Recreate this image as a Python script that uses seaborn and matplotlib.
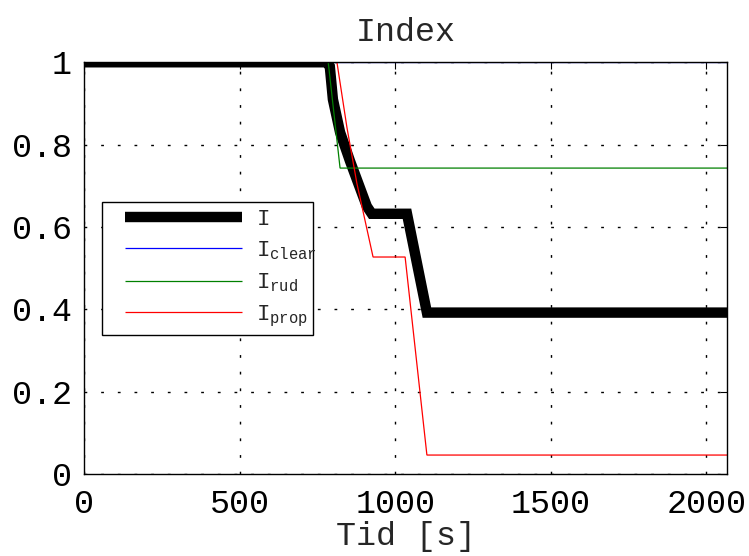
import matplotlib
matplotlib.use("Agg")
import matplotlib.pyplot as plt
import seaborn as sns
import pandas as pd
from matplotlib.lines import Line2D
from matplotlib.legend_handler import HandlerLine2D

# values (time [s], index)
t_total = [0, 780, 790, 800, 823, 855, 909, 925, 1038, 1102, 2067]
i_total = [1.0, 1.0, 0.99, 0.91, 0.83, 0.76, 0.65, 0.632, 0.632, 0.392, 0.392]

t_clear = [0, 2067]
i_clear = [1.0, 1.0]

t_rud = [0, 785, 823, 2067]
i_rud = [1.0, 1.0, 0.743, 0.743]

t_prop = [0, 813, 845, 877, 929, 1032, 1102, 2067]
i_prop = [1.0, 1.0, 0.842, 0.706, 0.527, 0.527, 0.046, 0.046]

labels = [r"$\mathrm{I}$", r"$\mathrm{I}_{\mathrm{clear}}$",
          r"$\mathrm{I}_{\mathrm{rud}}$", r"$\mathrm{I}_{\mathrm{prop}}$"]

sns.set_style("white")
plt.rcParams["font.family"] = ["Liberation Mono", "DejaVu Sans Mono"]
plt.rcParams["mathtext.fontset"] = "custom"
plt.rcParams["mathtext.rm"] = "Liberation Mono"

fig = plt.figure(figsize=(7.49, 5.56), dpi=100)
ax = fig.add_axes([0.112, 0.1475, 0.859, 0.7405])

# (x, y, colour, width, z-order) -- red drawn last, blue first
series = [(t_total, i_total, "black", 7.5, 3),
          (t_clear, i_clear, "blue", 0.9, 2),
          (t_rud, i_rud, "green", 0.9, 4),
          (t_prop, i_prop, "red", 0.9, 5)]
handles = []
for (t, v, c, lw, z), lab in zip(series, labels):
    df = pd.DataFrame({"t": t, "v": v})
    sns.lineplot(data=df, x="t", y="v", ax=ax, color=c, lw=lw,
                 estimator=None, sort=False, zorder=z)
    line = ax.get_lines()[-1]
    line.set_solid_capstyle("butt")
    line.set_solid_joinstyle("miter")
    line.set_clip_on(True)
    line.set_clip_box(ax.bbox)
    handles.append(line)

ax.set_xlim(0, 2067)
ax.set_ylim(0, 1)
ax.set_xticks([0, 500, 1000, 1500, 2000])
ax.set_yticks([0, 0.2, 0.4, 0.6, 0.8, 1])
ax.set_yticklabels(["0", "0.2", "0.4", "0.6", "0.8", "1"])
ax.grid(True, color="black", linestyle=(0, (2.0, 10.0)), linewidth=1.0)
ax.set_axisbelow(True)
ax.tick_params(direction="in", top=True, right=True, labelsize=24,
               length=5, width=0.8, colors="black")
ax.tick_params(axis="x", pad=11)
ax.tick_params(axis="y", pad=8.5)
for s in ax.spines.values():
    s.set_color("black")
    s.set_linewidth(1.0)
    s.set_zorder(6)

ax.set_title("Index", fontsize=24, pad=15)
ax.set_xlabel("Tid [s]", fontsize=24, labelpad=0.5)
ax.set_ylabel("")

leg = ax.legend(handles, labels, loc="lower left",
                bbox_to_anchor=(0.0286, 0.337, 0.328, 0.328),
                mode="expand", borderaxespad=0, fontsize=16,
                handlelength=6.0, handletextpad=0.6, fancybox=False,
                framealpha=1, edgecolor="black", borderpad=0.3,
                labelspacing=0.43,
                handler_map={Line2D: HandlerLine2D(xpad=0.72)})
leg.get_frame().set_linewidth(1.0)
leg.set_zorder(10)

fig.savefig("out.png", dpi=100)
